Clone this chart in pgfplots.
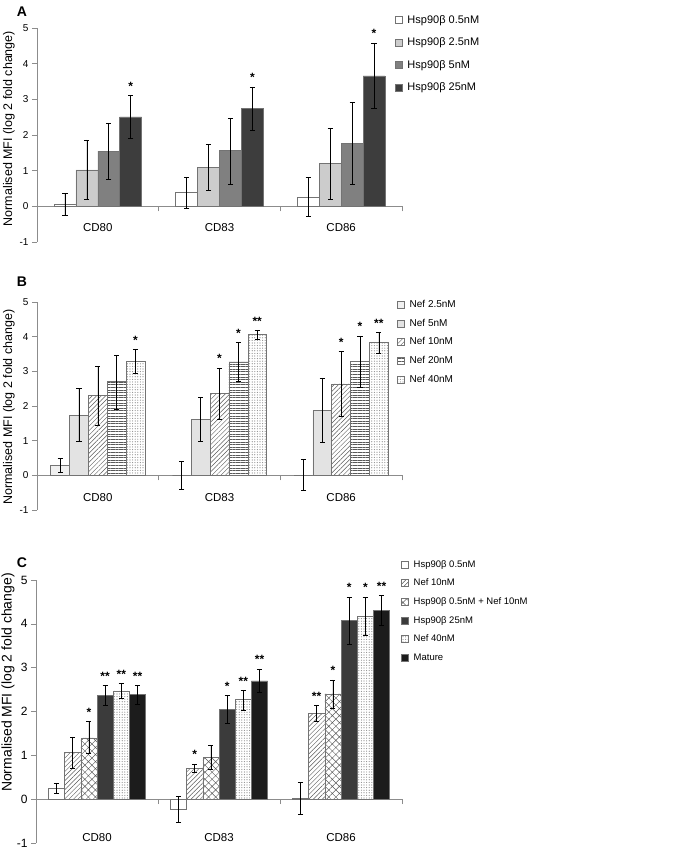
\documentclass[border=0pt]{standalone}
\usepackage{fontspec}
\setmainfont{Liberation Sans}
\usepackage{pgfplots}
\pgfplotsset{compat=1.18}
\usetikzlibrary{patterns,patterns.meta}

\definecolor{axisgray}{gray}{0.55}
\definecolor{barline}{gray}{0.45}
\definecolor{hatch}{gray}{0.35}

\pgfplotsset{
  sq legend/.style={legend image code/.code={\draw[##1] (0pt,-3.5pt) rectangle (7pt,3.5pt);}},
  panel/.style={
    scale only axis, width=365pt,
    xmin=-0.5, xmax=2.5, ymin=-1, ymax=5,
    axis x line*=middle, axis y line*=left,
    axis line style={draw=axisgray, line width=0.6pt},
    ytick={-1,0,...,5},
    xtick={0,1,2}, xticklabels={CD80,CD83,CD86},
    minor xtick={0.5,1.5,2.5},
    major x tick style={draw=none},
    minor x tick style={draw=axisgray, line width=0.6pt},
    major y tick style={draw=axisgray, line width=0.6pt},
    tick align=outside,
    major tick length=5pt, minor tick length=5pt,
    hide obscured y ticks=false,
    /pgf/number format/assume math mode=true,
    clip=false,
    legend cell align=left,
    ylabel={Normalised MFI (log 2 fold change)},
    every axis y label/.style={rotate=90, anchor=center},
  },
  lgd/.style={legend style={draw=none, fill=none, anchor=north west,
    /tikz/every odd column/.append style={column sep=3pt}}},
  br/.style={ybar, bar shift=0pt, draw=barline, line width=0.5pt, sq legend,
    error bars/y dir=both, error bars/y explicit,
    error bars/error bar style={black, line width=0.6pt},
    error bars/error mark options={rotate=90, black, mark size=2.6pt, line width=0.6pt}},
  stars/.style={draw=none, mark=none, forget plot, nodes near coords,
    point meta=explicit symbolic,
    nodes near coords style={font=\bfseries\fontsize{12}{12}\selectfont, black, anchor=south, inner sep=0pt, yshift=5pt}},
}

\begin{document}
\begin{tikzpicture}
\useasboundingbox (0pt,0pt) rectangle (685pt,-850pt);

\node[font=\bfseries\fontsize{14}{14}\selectfont] at (22pt,-12pt) {A};
\node[font=\bfseries\fontsize{14}{14}\selectfont] at (22pt,-282pt) {B};
\node[font=\bfseries\fontsize{14}{14}\selectfont] at (22pt,-563pt) {C};

% ---------------- A ----------------
\begin{axis}[panel, lgd, height=214pt, at={(37pt,-242pt)}, anchor=south west,
  yticklabel style={font=\fontsize{10}{11}\selectfont},
  xticklabel style={font=\fontsize{11.5}{12}\selectfont, anchor=center, yshift=-16pt},
  ylabel style={at={(axis description cs:-0.077,0.53)}, font=\fontsize{12.5}{13}\selectfont},
  legend style={at={(0.972,1.079)}, font=\fontsize{11}{13}\selectfont, row sep=9pt},
]
\addplot[br, bar width=0.18, fill=white] coordinates {
  (-0.27,0.07) += (0,0.30) -= (0,0.32)
  (0.73,0.40) += (0,0.42) -= (0,0.45)
  (1.73,0.26) += (0,0.56) -= (0,0.54)};
\addplot[br, bar width=0.18, fill=black!20] coordinates {
  (-0.09,1.02) += (0,0.84) -= (0,0.83)
  (0.91,1.09) += (0,0.65) -= (0,0.65)
  (1.91,1.21) += (0,0.99) -= (0,1.00)};
\addplot[br, bar width=0.18, fill=black!50] coordinates {
  (0.09,1.55) += (0,0.79) -= (0,0.79)
  (1.09,1.57) += (0,0.91) -= (0,0.94)
  (2.09,1.77) += (0,1.14) -= (0,1.15)};
\addplot[br, bar width=0.18, fill=black!76] coordinates {
  (0.27,2.51) += (0,0.60) -= (0,0.61)
  (1.27,2.74) += (0,0.61) -= (0,0.62)
  (2.27,3.66) += (0,0.92) -= (0,0.92)};
\addplot[stars] coordinates {(0.27,3.11) [*] (1.27,3.35) [*] (2.27,4.58) [*]};
\legend{Hsp90β 0.5nM, Hsp90β 2.5nM, Hsp90β 5nM, Hsp90β 25nM}
\end{axis}

% ---------------- B ----------------
\begin{axis}[panel, lgd, height=208pt, at={(37pt,-510pt)}, anchor=south west,
  yticklabel style={font=\fontsize{10}{11}\selectfont},
  xticklabel style={font=\fontsize{11.5}{12}\selectfont, anchor=center, yshift=-17pt},
  ylabel style={at={(axis description cs:-0.077,0.495)}, font=\fontsize{12.5}{13}\selectfont},
  legend style={at={(0.978,1.029)}, font=\fontsize{10}{12}\selectfont, row sep=6pt},
]
\addplot[br, bar width=0.155, fill=black!6] coordinates {
  (-0.31,0.28) += (0,0.20) -= (0,0.20)
  (0.69,0.00) += (0,0.40) -= (0,0.39)
  (1.69,0.00) += (0,0.45) -= (0,0.44)};
\addplot[br, bar width=0.155, fill=black!11] coordinates {
  (-0.155,1.74) += (0,0.76) -= (0,0.76)
  (0.845,1.61) += (0,0.63) -= (0,0.63)
  (1.845,1.87) += (0,0.94) -= (0,0.93)};
\addplot[br, bar width=0.155, pattern={Lines[angle=45,distance=3.2pt,line width=0.45pt]}, pattern color=hatch] coordinates {
  (0,2.30) += (0,0.85) -= (0,0.85)
  (1,2.36) += (0,0.74) -= (0,0.73)
  (2,2.64) += (0,0.94) -= (0,0.93)};
\addplot[br, bar width=0.155, pattern={Lines[angle=0,distance=2.6pt,line width=0.45pt]}, pattern color=hatch] coordinates {
  (0.155,2.70) += (0,0.76) -= (0,0.80)
  (1.155,3.27) += (0,0.56) -= (0,0.57)
  (2.155,3.28) += (0,0.74) -= (0,0.74)};
\addplot[br, bar width=0.155, pattern={Dots[distance=2.6pt,radius=0.6pt]}, pattern color=black!45] coordinates {
  (0.31,3.29) += (0,0.34) -= (0,0.36)
  (1.31,4.06) += (0,0.12) -= (0,0.13)
  (2.31,3.83) += (0,0.29) -= (0,0.30)};
\addplot[stars] coordinates {(0.31,3.63) [*] (1,3.10) [*] (1.155,3.83) [*] (1.31,4.18) [**]
  (2,3.58) [*] (2.155,4.02) [*] (2.31,4.12) [**]};
\legend{Nef 2.5nM, Nef 5nM, Nef 10nM, Nef 20nM, Nef 40nM}
\end{axis}

% ---------------- C ----------------
\begin{axis}[panel, lgd, width=366pt, height=263pt, at={(36pt,-843pt)}, anchor=south west,
  yticklabel style={font=\fontsize{12}{13}\selectfont},
  xticklabel style={font=\fontsize{11.5}{12}\selectfont, anchor=center, yshift=-33pt},
  ylabel style={at={(axis description cs:-0.0765,0.61)}, font=\fontsize{14}{15}\selectfont},
  legend style={at={(0.989,1.091)}, font=\fontsize{9.5}{11}\selectfont, row sep=6.3pt},
]
\addplot[br, bar width=0.133, fill=white] coordinates {
  (-0.3325,0.24) += (0,0.12) -= (0,0.11)
  (0.6675,-0.24) += (0,0.30) -= (0,0.28)
  (1.6675,0.03) += (0,0.36) -= (0,0.37)};
\addplot[br, bar width=0.133, pattern={Lines[angle=45,distance=3.2pt,line width=0.45pt]}, pattern color=hatch] coordinates {
  (-0.1995,1.06) += (0,0.36) -= (0,0.36)
  (0.8005,0.71) += (0,0.09) -= (0,0.09)
  (1.8005,1.95) += (0,0.19) -= (0,0.18)};
\addplot[br, bar width=0.133, pattern={Hatch[angle=45,distance=5pt,line width=0.45pt]}, pattern color=hatch] coordinates {
  (-0.0665,1.40) += (0,0.37) -= (0,0.36)
  (0.9335,0.96) += (0,0.28) -= (0,0.28)
  (1.9335,2.40) += (0,0.32) -= (0,0.32)};
\addplot[br, bar width=0.133, fill=black!77] coordinates {
  (0.0665,2.37) += (0,0.23) -= (0,0.23)
  (1.0665,2.05) += (0,0.31) -= (0,0.32)
  (2.0665,4.08) += (0,0.53) -= (0,0.54)};
\addplot[br, bar width=0.133, pattern={Dots[distance=2.6pt,radius=0.6pt]}, pattern color=black!45] coordinates {
  (0.1995,2.47) += (0,0.17) -= (0,0.17)
  (1.1995,2.27) += (0,0.21) -= (0,0.24)
  (2.1995,4.17) += (0,0.44) -= (0,0.42)};
\addplot[br, bar width=0.133, fill=black!89] coordinates {
  (0.3325,2.39) += (0,0.21) -= (0,0.22)
  (1.3325,2.70) += (0,0.27) -= (0,0.26)
  (2.3325,4.30) += (0,0.34) -= (0,0.34)};
\addplot[stars] coordinates {
  (-0.0665,1.77) [*] (0.0665,2.60) [**] (0.1995,2.64) [**] (0.3325,2.60) [**]
  (0.8005,0.80) [*] (1.0665,2.36) [*] (1.1995,2.48) [**] (1.3325,2.97) [**]
  (1.8005,2.14) [**] (1.9335,2.72) [*] (2.0665,4.61) [*] (2.1995,4.61) [*] (2.3325,4.64) [**]};
\legend{Hsp90β 0.5nM, Nef 10nM, Hsp90β 0.5nM + Nef 10nM, Hsp90β 25nM, Nef 40nM, Mature}
\end{axis}
\end{tikzpicture}
\end{document}
